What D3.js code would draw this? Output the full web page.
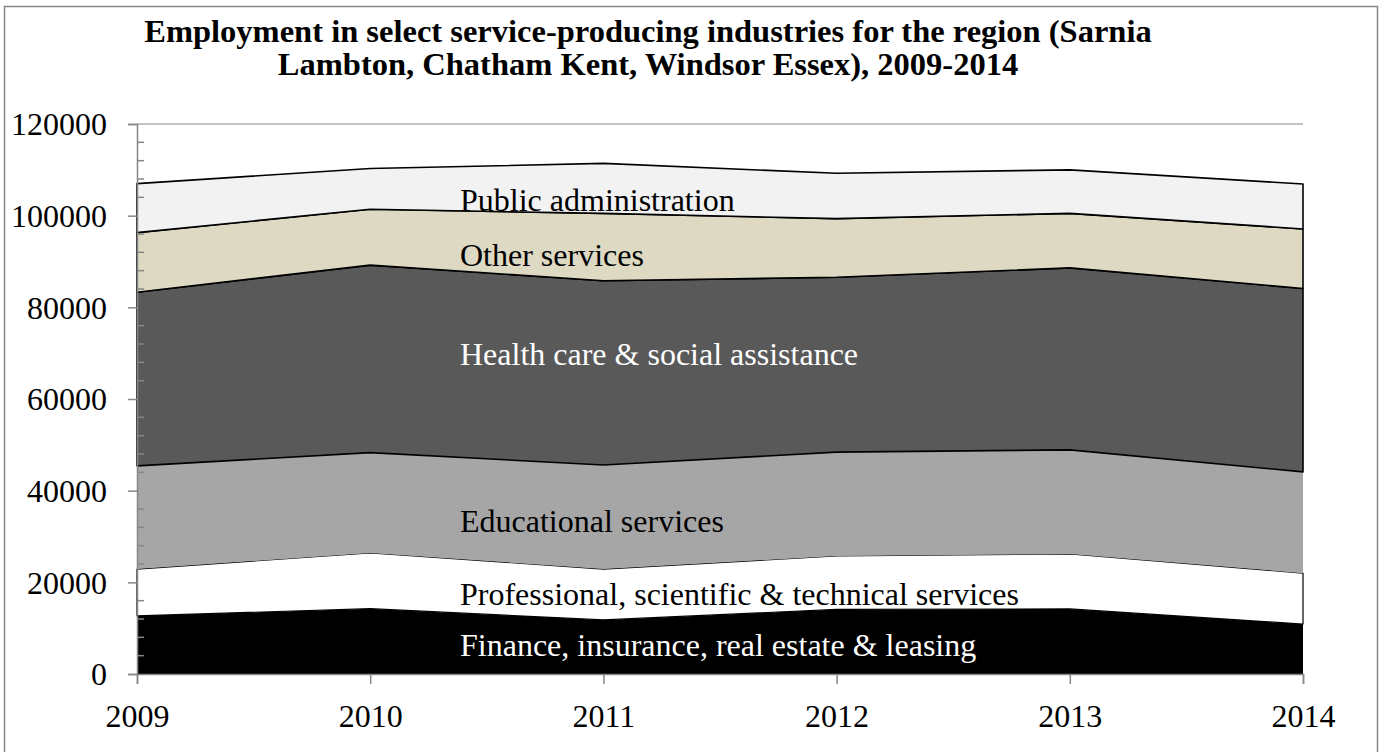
<!DOCTYPE html>
<html>
<head>
<meta charset="utf-8">
<script src="https://cdn.jsdelivr.net/npm/d3@7"></script>
<style>
  html, body { margin: 0; padding: 0; background: #fff; }
  svg { display: block; }
  text { font-family: "Liberation Serif", "Times New Roman", serif; }
</style>
</head>
<body>
<svg id="chart" width="1383" height="752"></svg>
<script>
// ---- data ----
const years = [2009, 2010, 2011, 2012, 2013, 2014];
const seriesNames = [
  "Finance, insurance, real estate & leasing",
  "Professional, scientific & technical services",
  "Educational services",
  "Health care & social assistance",
  "Other services",
  "Public administration"
];
const finance      = [12700, 14250, 11800, 14100, 14200, 10900];
const professional = [10200, 12150, 11100, 11650, 12000, 11100];
const educational  = [22500, 21900, 22700, 22650, 22700, 22100];
const health       = [37900, 40900, 40200, 38150, 39700, 40000];
const otherServ    = [13000, 12200, 14700, 12800, 11900, 13000];
const publicAdmin  = [10700,  8900, 10900,  9900,  9500,  9800];
const yTicks = [0, 20000, 40000, 60000, 80000, 100000, 120000];
const titleLines = [
  "Employment in select service-producing industries for the region (Sarnia",
  "Lambton, Chatham Kent, Windsor Essex), 2009-2014"
];
// label anchor values (in data units) for the in-area labels
const labelValues = [6300, 17450, 33400, 69800, 91400, 103400];

// ---- styles ----
const fills   = ["#000000", "#ffffff", "#a6a6a6", "#595959", "#ddd9c3", "#f2f2f2"];
const strokes = ["none", "#000", "none", "#000", "#000", "#000"];
const labelColors = ["#ffffff", "#000", "#000", "#ffffff", "#000", "#000"];

const svg = d3.select("#chart");
const M = { left: 137, right: 1303, top: 124, bottom: 674 };

// outer border
svg.append("rect").attr("x", 4.5).attr("y", 6.5).attr("width", 1373).attr("height", 760)
  .attr("fill", "#fff").attr("stroke", "#868686").attr("stroke-width", 1.5);

const x = d3.scaleLinear().domain([2009, 2014]).range([M.left, M.right]);
const y = d3.scaleLinear().domain([0, 120000]).range([M.bottom, M.top]);

// table
const keys = ["finance", "professional", "educational", "health", "other", "public"];
const cols = [finance, professional, educational, health, otherServ, publicAdmin];
const table = years.map((yr, i) => {
  const row = { year: yr };
  keys.forEach((k, j) => row[k] = cols[j][i]);
  return row;
});
const stacked = d3.stack().keys(keys)(table);

// gridlines
svg.append("g").selectAll("line").data(yTicks.filter(d => d > 0)).join("line")
  .attr("x1", M.left).attr("x2", M.right)
  .attr("y1", d => y(d)).attr("y2", d => y(d))
  .attr("stroke", "#868686").attr("stroke-width", 1.2);

// areas
const area = d3.area().x(d => x(d.data.year)).y0(d => y(d[0])).y1(d => y(d[1]));
svg.append("g").selectAll("path").data(stacked).join("path")
  .attr("d", area)
  .attr("fill", (d, i) => fills[i])
  .attr("stroke", (d, i) => strokes[i])
  .attr("stroke-width", (d, i) => i === 1 ? 1.2 : 1.6)
  .attr("stroke-linejoin", "round");

// y axis
const yAxis = d3.axisLeft(y).tickValues(yTicks).tickSize(9).tickPadding(21).tickFormat(d3.format("d"));
const gy = svg.append("g").attr("transform", `translate(${M.left},0)`).call(yAxis);
gy.select(".domain").attr("stroke", "#868686").attr("stroke-width", 1.5);
gy.selectAll(".tick line").attr("stroke", "#868686").attr("stroke-width", 1.5);
gy.selectAll(".tick text").attr("font-size", "32px").attr("fill", "#000")
  .attr("font-family", "Liberation Serif, Times New Roman, serif").attr("dy", "0.34em");
// minor ticks (inside)
const minor = d3.range(0, 120001, 4000).filter(v => v % 20000 !== 0);
svg.append("g").selectAll("line").data(minor).join("line")
  .attr("x1", M.left).attr("x2", M.left + 7)
  .attr("y1", d => y(d)).attr("y2", d => y(d))
  .attr("stroke", "#868686").attr("stroke-width", 1.5);

// x axis
const xAxis = d3.axisBottom(x).tickValues(years).tickSize(10).tickPadding(20).tickFormat(d3.format("d"));
const gx = svg.append("g").attr("transform", `translate(0,${M.bottom})`).call(xAxis);
gx.select(".domain").attr("stroke", "#868686").attr("stroke-width", 1.5);
gx.selectAll(".tick line").attr("stroke", "#868686").attr("stroke-width", 1.5);
gx.selectAll(".tick text").attr("font-size", "32px").attr("fill", "#000")
  .attr("font-family", "Liberation Serif, Times New Roman, serif");

// labels
svg.append("g").selectAll("text").data(seriesNames).join("text")
  .attr("x", 460)
  .attr("y", (d, i) => y(labelValues[i]))
  .attr("dy", "0.34em")
  .attr("font-size", "32px")
  .attr("fill", (d, i) => labelColors[i])
  .text(d => d);

// title
svg.append("g").selectAll("text").data(titleLines).join("text")
  .attr("x", 648)
  .attr("y", (d, i) => 42 + i * 33)
  .attr("text-anchor", "middle")
  .attr("font-size", "32.5px")
  .attr("font-weight", "bold")
  .attr("fill", "#000")
  .text(d => d);
</script>
</body>
</html>
